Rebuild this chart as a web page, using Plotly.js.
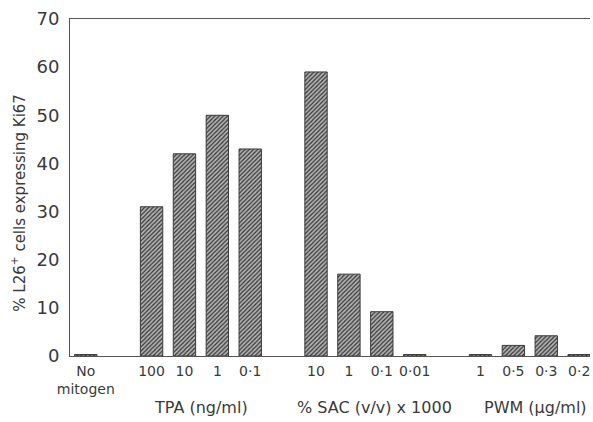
<!DOCTYPE html>
<html>
<head>
<meta charset="utf-8">
<script src="https://cdn.plot.ly/plotly-3.0.1.min.js"></script>
<style>html,body{margin:0;padding:0;background:#fff;}#chart{width:593px;height:422px;}</style>
</head>
<body>
<div id="chart"></div>
<script>
// Data
const groupNames = ["", "TPA (ng/ml)", "% SAC (v/v) x 1000", "PWM (\u00b5g/ml)"];
const noMitogenLabels = ["No<br>mitogen"];
const noMitogenValues = [0.3];
const tpaLabels = ["100", "10", "1", "0\u00b71"];
const tpaValues = [31, 42, 50, 43];
const sacLabels = ["10", "1", "0\u00b71", "0\u00b701"];
const sacValues = [59, 17, 9.2, 0.3];
const pwmLabels = ["1", "0\u00b75", "0\u00b73", "0\u00b72"];
const pwmValues = [0.3, 2.2, 4.2, 0.3];
const yTicks = [0, 10, 20, 30, 40, 50, 60, 70];

const groups = [
  {labels: noMitogenLabels, values: noMitogenValues},
  {labels: tpaLabels, values: tpaValues},
  {labels: sacLabels, values: sacValues},
  {labels: pwmLabels, values: pwmValues}
];

// Build slot positions: one empty slot between groups
let xs = [], ys = [], tickText = [], centers = [];
let slot = 0;
groups.forEach((g, gi) => {
  const start = slot;
  g.labels.forEach((lab, i) => {
    xs.push(slot); ys.push(g.values[i]); tickText.push(lab); slot++;
  });
  centers.push((start + slot - 1) / 2);
  slot++;
});

const font = "DejaVu Sans, Arial, sans-serif";
const txt = "#3a3a3a";

const trace = {
  type: "bar",
  x: xs, y: ys,
  width: 0.68,
  marker: {
    color: "#8a8a8a",
    line: {color: "#3a3a3a", width: 1},
    pattern: {shape: "/", fgcolor: "#333333", bgcolor: "#b4b4b4", size: 3, solidity: 0.4}
  },
  hoverinfo: "skip"
};

const annotations = [];
groups.forEach((g, gi) => {
  if (!groupNames[gi]) return;
  const shifts = [0, 0, 9, 6];
  annotations.push({
    text: groupNames[gi], x: centers[gi], xref: "x", y: 0, yref: "paper",
    yanchor: "middle", yshift: -51, xshift: shifts[gi], showarrow: false,
    font: {family: font, size: 16, color: txt}
  });
});
annotations.push({
  text: "% L26<sup>+</sup> cells expressing Ki67", textangle: -90,
  x: 0, xref: "paper", xanchor: "center", xshift: -52,
  y: 0.455, yref: "paper", yanchor: "middle", showarrow: false,
  font: {family: font, size: 15, color: txt}
});

const layout = {
  width: 593, height: 422,
  margin: {l: 70, r: 3, t: 19, b: 66},
  paper_bgcolor: "#fff", plot_bgcolor: "#fff",
  showlegend: false,
  font: {family: font, color: txt},
  xaxis: {
    range: [-0.48, 15.33],
    tickvals: xs, ticktext: tickText,
    tickangle: 0,
    showgrid: false, zeroline: false,
    showline: true, linecolor: "#555", linewidth: 1, mirror: true,
    ticks: "outside", ticklen: 2, tickcolor: "rgba(0,0,0,0)",
    tickfont: {family: font, size: 14, color: txt}
  },
  yaxis: {
    range: [0, 70],
    tickvals: yTicks,
    showgrid: false, zeroline: false,
    showline: true, linecolor: "#555", linewidth: 1,
    ticks: "outside", ticklen: 6, tickcolor: "rgba(0,0,0,0)",
    tickfont: {family: font, size: 18, color: txt}
  },
  annotations: annotations
};

Plotly.newPlot("chart", [trace], layout, {displayModeBar: false, staticPlot: true});
</script>
</body>
</html>
